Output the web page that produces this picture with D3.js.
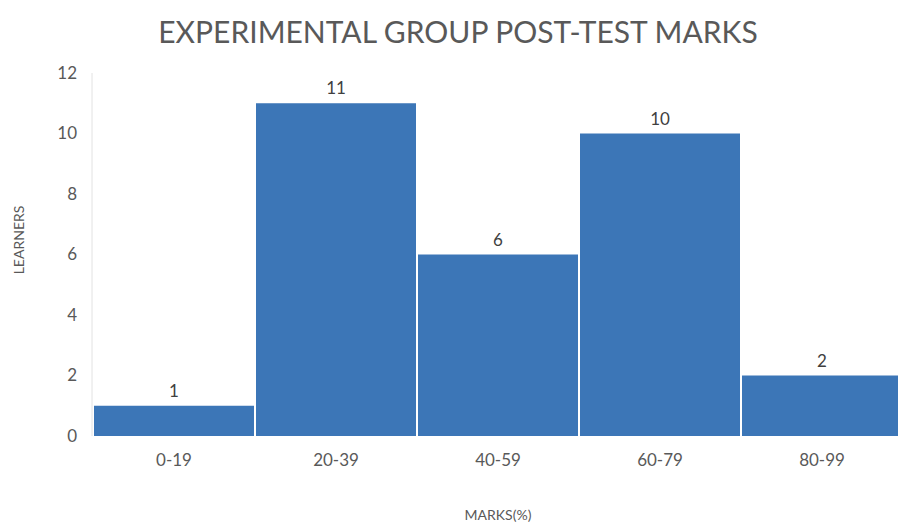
<!DOCTYPE html>
<html>
<head>
<meta charset="utf-8">
<script src="https://cdn.jsdelivr.net/npm/d3@7"></script>
<style>
  body { margin: 0; background: #fff; }
  svg { display: block; }
</style>
</head>
<body>
<div id="chart"></div>
<script>
// chart data
var ranges = ["0-19", "20-39", "40-59", "60-79", "80-99"];
var learners = [1, 11, 6, 10, 2];
var yTicks = [0, 2, 4, 6, 8, 10, 12];

var svgWidth = 898;
var svgHeight = 526;

var margin = { top: 73, bottom: 90, left: 93, right: -5 };
var width = svgWidth - margin.left - margin.right;
var height = svgHeight - margin.top - margin.bottom;

var svg = d3.select("#chart")
    .append("svg")
    .attr("width", svgWidth)
    .attr("height", svgHeight);

var chartGroup = svg.append("g")
    .attr("transform", `translate(${margin.left}, ${margin.top})`);

var font = "Lato, 'Open Sans', sans-serif";
var grey = "#595959";

// scales
var xScale = d3.scaleBand()
    .domain(ranges)
    .range([0, width])
    .padding(0);

var yScale = d3.scaleLinear()
    .domain([0, 12])
    .range([height, 0]);

// left axis line
chartGroup.append("line")
    .attr("x1", -1).attr("x2", -1)
    .attr("y1", 0).attr("y2", height)
    .attr("stroke", "#e2e2e2")
    .attr("stroke-width", 1);

// y tick labels
var yAxis = d3.axisLeft(yScale).tickValues(yTicks).tickSize(0).tickPadding(16);
var yG = chartGroup.append("g").call(yAxis);
yG.select(".domain").remove();
yG.selectAll("text")
    .attr("font-family", font)
    .attr("font-size", "17px")
    .attr("fill", grey);

// x tick labels
var xAxis = d3.axisBottom(xScale).tickSize(0).tickPadding(18);
var xG = chartGroup.append("g")
    .attr("transform", `translate(0, ${height})`)
    .call(xAxis);
xG.select(".domain").remove();
xG.selectAll("text")
    .attr("font-family", font)
    .attr("font-size", "17px")
    .attr("fill", grey);

// bars
chartGroup.selectAll("rect.bar")
    .data(learners)
    .enter()
    .append("rect")
    .attr("class", "bar")
    .attr("x", (d, i) => xScale(ranges[i]) + 1)
    .attr("width", xScale.bandwidth() - 2)
    .attr("y", d => yScale(d))
    .attr("height", d => height - yScale(d))
    .attr("fill", "#3c76b7");

// value labels
chartGroup.selectAll("text.val")
    .data(learners)
    .enter()
    .append("text")
    .attr("class", "val")
    .attr("x", (d, i) => xScale(ranges[i]) + xScale.bandwidth() / 2)
    .attr("y", d => yScale(d) - 9)
    .attr("text-anchor", "middle")
    .attr("font-family", font)
    .attr("font-size", "17px")
    .attr("fill", "#404040")
    .text(d => d);

// title
svg.append("text")
    .attr("x", 458)
    .attr("y", 43)
    .attr("text-anchor", "middle")
    .attr("font-family", font)
    .attr("font-size", "30px")
    .attr("fill", grey)
    .text("EXPERIMENTAL GROUP POST-TEST MARKS");

// axis titles
svg.append("text")
    .attr("x", 498)
    .attr("y", 520)
    .attr("text-anchor", "middle")
    .attr("font-family", font)
    .attr("font-size", "14px")
    .attr("fill", grey)
    .text("MARKS(%)");

svg.append("text")
    .attr("transform", "translate(24, 240) rotate(-90)")
    .attr("text-anchor", "middle")
    .attr("font-family", font)
    .attr("font-size", "14px")
    .attr("fill", grey)
    .text("LEARNERS");
</script>
</body>
</html>
